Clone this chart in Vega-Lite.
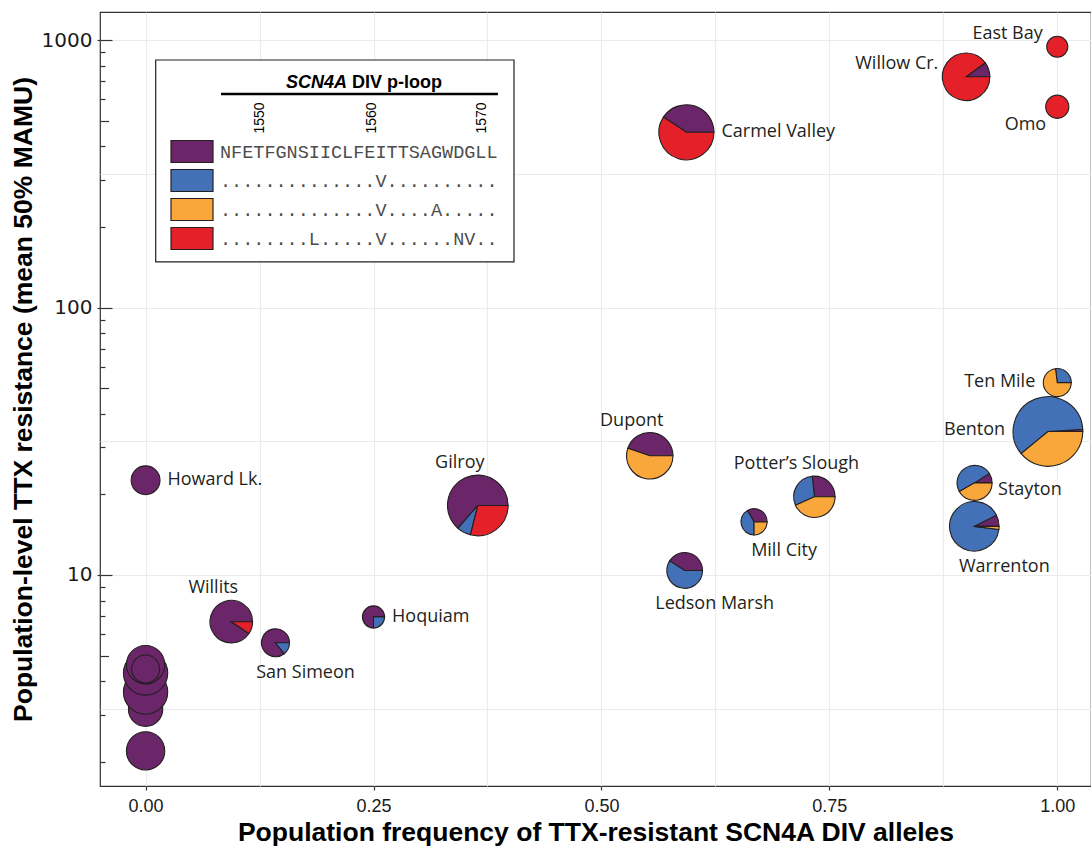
{
  "$schema": "https://vega.github.io/schema/vega-lite/v6.json",
  "width": 991,
  "height": 774,
  "autosize": {"type": "none"},
  "padding": {"left": 100, "top": 12, "right": 0, "bottom": 65},
  "background": "white",
  "config": {
    "view": {"stroke": "#333333", "strokeWidth": 1.2},
    "axis": {"labelOverlap": false, "labelFlush": false}
  },
  "datasets": {
    "sites": [
      {"pop": "z1", "freq": 0, "mamu": 2.2, "n": 30, "side": "none"},
      {"pop": "z2", "freq": 0, "mamu": 3.15, "n": 24, "side": "none"},
      {"pop": "z3", "freq": 0, "mamu": 3.65, "n": 40, "side": "none"},
      {"pop": "z4", "freq": 0, "mamu": 4.3, "n": 40, "side": "none"},
      {"pop": "z5", "freq": 0, "mamu": 4.62, "n": 30, "side": "none"},
      {"pop": "z6", "freq": 0, "mamu": 4.45, "n": 16, "side": "none"},
      {"pop": "Howard Lk.", "freq": 0, "mamu": 22.6, "n": 17, "side": "right"},
      {"pop": "Willits", "freq": 0.094, "mamu": 6.69, "n": 37, "side": "above"},
      {"pop": "San Simeon", "freq": 0.1425, "mamu": 5.58, "n": 16, "side": "below"},
      {"pop": "Hoquiam", "freq": 0.25, "mamu": 6.97, "n": 10, "side": "right"},
      {"pop": "Gilroy", "freq": 0.3644, "mamu": 18.2, "n": 75, "side": "above"},
      {"pop": "Dupont", "freq": 0.553, "mamu": 27.9, "n": 44, "side": "above"},
      {"pop": "Ledson Marsh", "freq": 0.5913, "mamu": 10.4, "n": 26, "side": "below"},
      {"pop": "Carmel Valley", "freq": 0.5932, "mamu": 452, "n": 62, "side": "right"},
      {"pop": "Mill City", "freq": 0.6674, "mamu": 15.8, "n": 14, "side": "below"},
      {"pop": "Potter’s Slough", "freq": 0.7336, "mamu": 19.6, "n": 35, "side": "above"},
      {"pop": "Willow Cr.", "freq": 0.9, "mamu": 729, "n": 46, "side": "upper-left"},
      {"pop": "Stayton", "freq": 0.9093, "mamu": 22.1, "n": 25, "side": "lower-right"},
      {"pop": "Warrenton", "freq": 0.909, "mamu": 15.2, "n": 50, "side": "below"},
      {"pop": "Benton", "freq": 0.9898, "mamu": 34.4, "n": 99, "side": "left"},
      {"pop": "Ten Mile", "freq": 1, "mamu": 52.4, "n": 16, "side": "left"},
      {"pop": "East Bay", "freq": 1, "mamu": 944, "n": 9, "side": "upper-left"},
      {"pop": "Omo", "freq": 1, "mamu": 563, "n": 11, "side": "lower-left"}
    ],
    "slices": [
      {"pop": "z1", "allele": "Ancestral", "frac": 1},
      {"pop": "z2", "allele": "Ancestral", "frac": 1},
      {"pop": "z3", "allele": "Ancestral", "frac": 1},
      {"pop": "z4", "allele": "Ancestral", "frac": 1},
      {"pop": "z5", "allele": "Ancestral", "frac": 1},
      {"pop": "z6", "allele": "Ancestral", "frac": 1},
      {"pop": "Howard Lk.", "allele": "Ancestral", "frac": 1},
      {"pop": "Willits", "allele": "Ancestral", "frac": 0.906},
      {"pop": "Willits", "allele": "I1561V+I1555L+D1568N+G1569V", "frac": 0.094},
      {"pop": "San Simeon", "allele": "Ancestral", "frac": 0.857},
      {"pop": "San Simeon", "allele": "I1561V", "frac": 0.143},
      {"pop": "Hoquiam", "allele": "Ancestral", "frac": 0.75},
      {"pop": "Hoquiam", "allele": "I1561V", "frac": 0.25},
      {"pop": "Gilroy", "allele": "Ancestral", "frac": 0.636},
      {"pop": "Gilroy", "allele": "I1561V", "frac": 0.075},
      {"pop": "Gilroy", "allele": "I1561V+I1555L+D1568N+G1569V", "frac": 0.289},
      {"pop": "Dupont", "allele": "Ancestral", "frac": 0.447},
      {"pop": "Dupont", "allele": "I1561V+G1566A", "frac": 0.553},
      {"pop": "Ledson Marsh", "allele": "Ancestral", "frac": 0.41},
      {"pop": "Ledson Marsh", "allele": "I1561V", "frac": 0.59},
      {"pop": "Carmel Valley", "allele": "Ancestral", "frac": 0.407},
      {"pop": "Carmel Valley", "allele": "I1561V+I1555L+D1568N+G1569V", "frac": 0.593},
      {"pop": "Mill City", "allele": "Ancestral", "frac": 0.333},
      {"pop": "Mill City", "allele": "I1561V", "frac": 0.417},
      {"pop": "Mill City", "allele": "I1561V+G1566A", "frac": 0.25},
      {"pop": "Potter’s Slough", "allele": "Ancestral", "frac": 0.266},
      {"pop": "Potter’s Slough", "allele": "I1561V", "frac": 0.3},
      {"pop": "Potter’s Slough", "allele": "I1561V+G1566A", "frac": 0.434},
      {"pop": "Willow Cr.", "allele": "Ancestral", "frac": 0.1},
      {"pop": "Willow Cr.", "allele": "I1561V+I1555L+D1568N+G1569V", "frac": 0.9},
      {"pop": "Stayton", "allele": "Ancestral", "frac": 0.091},
      {"pop": "Stayton", "allele": "I1561V", "frac": 0.49},
      {"pop": "Stayton", "allele": "I1561V+G1566A", "frac": 0.419},
      {"pop": "Warrenton", "allele": "Ancestral", "frac": 0.075},
      {"pop": "Warrenton", "allele": "I1561V", "frac": 0.905},
      {"pop": "Warrenton", "allele": "I1561V+G1566A", "frac": 0.02},
      {"pop": "Benton", "allele": "Ancestral", "frac": 0.01},
      {"pop": "Benton", "allele": "I1561V", "frac": 0.6},
      {"pop": "Benton", "allele": "I1561V+G1566A", "frac": 0.39},
      {"pop": "Ten Mile", "allele": "I1561V", "frac": 0.27},
      {"pop": "Ten Mile", "allele": "I1561V+G1566A", "frac": 0.73},
      {"pop": "East Bay", "allele": "I1561V+I1555L+D1568N+G1569V", "frac": 1},
      {"pop": "Omo", "allele": "I1561V+I1555L+D1568N+G1569V", "frac": 1}
    ]
  },
  "layer": [
    {
      "data": {"name": "slices"},
      "transform": [
        {"lookup": "pop", "from": {"data": {"name": "sites"}, "key": "pop", "fields": ["freq", "mamu", "n"]}},
        {"stack": "frac", "groupby": ["pop"], "sort": [{"field": "allele", "order": "ascending"}], "offset": "normalize", "as": ["f0", "f1"]}
      ],
      "mark": {"type": "arc", "stroke": "#231f20", "strokeWidth": 1.1},
      "encoding": {
        "x": {"field": "freq", "type": "quantitative", "scale": {"domain": [-0.05, 1.037], "nice": false, "zero": false},
          "axis": {"orient": "bottom", "values": [0, 0.125, 0.25, 0.375, 0.5, 0.625, 0.75, 0.875, 1], "grid": true, "gridColor": "#EBEBEB", "gridWidth": 1.1, "labels": false, "ticks": false, "domain": false, "title": null}},
        "y": {"field": "mamu", "type": "quantitative", "scale": {"type": "log", "domain": [1.626, 1273], "nice": false},
          "axis": {"orient": "left", "values": [3.1623, 10, 31.623, 100, 316.23, 1000], "grid": true, "gridColor": "#EBEBEB", "gridWidth": 1.1, "labels": false, "ticks": false, "domain": false, "title": null}},
        "theta": {"field": "f0", "type": "quantitative", "scale": {"domain": [0, 1], "range": [1.5708, -4.7124], "nice": false, "zero": false}},
        "theta2": {"field": "f1"},
        "radius": {"field": "n", "type": "quantitative", "scale": {"type": "sqrt", "domain": [0, 100], "range": [0, 35], "zero": true}},
        "color": {
          "field": "allele", "type": "nominal",
          "scale": {"domain": ["Ancestral", "I1561V", "I1561V+G1566A", "I1561V+I1555L+D1568N+G1569V"], "range": ["#6B2569", "#4371B8", "#F9A73B", "#E42129"]},
          "legend": {
            "orient": "none", "legendX": 70, "legendY": 128, "title": null, "padding": 0,
            "symbolType": "M-1,-0.524H1V0.524H-1Z", "symbolSize": 1764,
            "symbolStrokeColor": "#231f20", "symbolStrokeWidth": 1.2, "symbolOpacity": 1,
            "labelFont": "Liberation Mono", "labelFontSize": 18.5, "labelColor": "#4d4d4d",
            "labelOffset": 6, "labelLimit": 600, "rowPadding": 6, "clipHeight": 23,
            "labelExpr": "datum.label == 'Ancestral' ? 'NFETFGNSIICLFEITTSAGWDGLL' : datum.label == 'I1561V' ? '..............V..........' : datum.label == 'I1561V+G1566A' ? '..............V....A.....' : '........L.....V......NV..'"
          }
        }
      }
    },
    {
      "data": {"name": "sites"},
      "transform": [{"filter": "datum.side == 'right'"}],
      "mark": {"type": "text", "theta": 1.5708, "dx": 7.5, "dy": 0, "align": "left", "baseline": "middle", "font": "Open Sans", "fontSize": 18, "fill": "#231f20"},
      "encoding": {
        "x": {"field": "freq", "type": "quantitative", "scale": {"domain": [-0.05, 1.037], "nice": false, "zero": false},
          "axis": {"orient": "bottom", "values": [0, 0.25, 0.5, 0.75, 1], "format": ".2f", "grid": false, "domain": false, "ticks": true, "tickSize": 4, "tickColor": "#333333", "tickWidth": 1.2,
            "labelFont": "Liberation Sans", "labelFontSize": 18, "labelColor": "#1a1a1a", "labelPadding": 7,
            "title": "Population frequency of TTX-resistant SCN4A DIV alleles", "titleFont": "Liberation Sans", "titleFontSize": 26.5, "titleFontWeight": "bold", "titleColor": "#000000", "titlePadding": 4}},
        "y": {"field": "mamu", "type": "quantitative", "scale": {"type": "log", "domain": [1.626, 1273], "nice": false},
          "axis": {"orient": "left", "values": [10, 100, 1000], "format": "d", "grid": false, "domain": false, "ticks": true, "tickSize": 3, "tickColor": "#333333", "tickWidth": 1.2,
            "labelFont": "DejaVu Sans", "labelFontSize": 20, "labelColor": "#1a1a1a", "labelPadding": 5,
            "title": "Population-level TTX resistance (mean 50% MAMU)", "titleFont": "Liberation Sans", "titleFontSize": 26.5, "titleFontWeight": "bold", "titleColor": "#000000", "titlePadding": 4}},
        "radius": {"field": "n", "type": "quantitative", "scale": {"type": "sqrt", "domain": [0, 100], "range": [0, 35], "zero": true}},
        "text": {"field": "pop"}
      }
    },
    {
      "data": {"name": "sites"},
      "transform": [{"filter": "datum.side == 'left'"}],
      "mark": {"type": "text", "theta": 4.7124, "dx": -8, "dy": -1, "align": "right", "baseline": "middle", "font": "Open Sans", "fontSize": 18, "fill": "#231f20"},
      "encoding": {
        "x": {"field": "freq", "type": "quantitative", "scale": {"domain": [-0.05, 1.037], "nice": false, "zero": false}, "axis": null},
        "y": {"field": "mamu", "type": "quantitative", "scale": {"type": "log", "domain": [1.626, 1273], "nice": false},
          "axis": {"orient": "left", "values": [2, 3, 4, 5, 6, 7, 8, 9, 10, 20, 30, 40, 50, 60, 70, 80, 90, 100, 200, 300, 400, 500, 600, 700, 800, 900, 1000],
            "labels": false, "grid": false, "domain": false, "title": null, "ticks": true, "tickColor": "#333333", "tickWidth": 1.2,
            "tickSize": {"condition": [{"test": "datum.value == 10 || datum.value == 100 || datum.value == 1000", "value": -12}, {"test": "datum.value == 5 || datum.value == 50 || datum.value == 500", "value": -8.5}], "value": -5}}},
        "radius": {"field": "n", "type": "quantitative", "scale": {"type": "sqrt", "domain": [0, 100], "range": [0, 35], "zero": true}},
        "text": {"field": "pop"}
      }
    },
    {
      "data": {"name": "sites"},
      "transform": [{"filter": "datum.side == 'lower-right'"}],
      "mark": {"type": "text", "theta": 1.5708, "dx": 6, "dy": 7, "align": "left", "baseline": "middle", "font": "Open Sans", "fontSize": 18, "fill": "#231f20"},
      "encoding": {
        "x": {"field": "freq", "type": "quantitative", "scale": {"domain": [-0.05, 1.037], "nice": false, "zero": false}, "axis": null},
        "y": {"field": "mamu", "type": "quantitative", "scale": {"type": "log", "domain": [1.626, 1273], "nice": false}, "axis": null},
        "radius": {"field": "n", "type": "quantitative", "scale": {"type": "sqrt", "domain": [0, 100], "range": [0, 35], "zero": true}},
        "text": {"field": "pop"}
      }
    },
    {
      "data": {"name": "sites"},
      "transform": [{"filter": "datum.side == 'upper-left'"}],
      "mark": {"type": "text", "theta": 4.7124, "dx": -4, "dy": -13, "align": "right", "baseline": "middle", "font": "Open Sans", "fontSize": 18, "fill": "#231f20"},
      "encoding": {
        "x": {"field": "freq", "type": "quantitative", "scale": {"domain": [-0.05, 1.037], "nice": false, "zero": false}, "axis": null},
        "y": {"field": "mamu", "type": "quantitative", "scale": {"type": "log", "domain": [1.626, 1273], "nice": false}, "axis": null},
        "radius": {"field": "n", "type": "quantitative", "scale": {"type": "sqrt", "domain": [0, 100], "range": [0, 35], "zero": true}},
        "text": {"field": "pop"}
      }
    },
    {
      "data": {"name": "sites"},
      "transform": [{"filter": "datum.side == 'lower-left'"}],
      "mark": {"type": "text", "theta": 4.7124, "dx": 0.5, "dy": 18, "align": "right", "baseline": "middle", "font": "Open Sans", "fontSize": 18, "fill": "#231f20"},
      "encoding": {
        "x": {"field": "freq", "type": "quantitative", "scale": {"domain": [-0.05, 1.037], "nice": false, "zero": false}, "axis": null},
        "y": {"field": "mamu", "type": "quantitative", "scale": {"type": "log", "domain": [1.626, 1273], "nice": false}, "axis": null},
        "radius": {"field": "n", "type": "quantitative", "scale": {"type": "sqrt", "domain": [0, 100], "range": [0, 35], "zero": true}},
        "text": {"field": "pop"}
      }
    },
    {
      "data": {"name": "sites"},
      "transform": [{"filter": "datum.side == 'above'"}],
      "mark": {"type": "text", "theta": 0, "dx": -18, "dy": -7, "align": "center", "baseline": "alphabetic", "font": "Open Sans", "fontSize": 18, "fill": "#231f20"},
      "encoding": {
        "x": {"field": "freq", "type": "quantitative", "scale": {"domain": [-0.05, 1.037], "nice": false, "zero": false}, "axis": null},
        "y": {"field": "mamu", "type": "quantitative", "scale": {"type": "log", "domain": [1.626, 1273], "nice": false}, "axis": null},
        "radius": {"field": "n", "type": "quantitative", "scale": {"type": "sqrt", "domain": [0, 100], "range": [0, 35], "zero": true}},
        "text": {"field": "pop"}
      }
    },
    {
      "data": {"name": "sites"},
      "transform": [{"filter": "datum.side == 'below'"}],
      "mark": {"type": "text", "theta": 3.1416, "dx": 30, "dy": 21, "align": "center", "baseline": "alphabetic", "font": "Open Sans", "fontSize": 18, "fill": "#231f20"},
      "encoding": {
        "x": {"field": "freq", "type": "quantitative", "scale": {"domain": [-0.05, 1.037], "nice": false, "zero": false}, "axis": null},
        "y": {"field": "mamu", "type": "quantitative", "scale": {"type": "log", "domain": [1.626, 1273], "nice": false}, "axis": null},
        "radius": {"field": "n", "type": "quantitative", "scale": {"type": "sqrt", "domain": [0, 100], "range": [0, 35], "zero": true}},
        "text": {"field": "pop"}
      }
    },
    {
      "data": {"values": [{}]},
      "layer": [
        {
          "mark": {"type": "rect", "fill": "white", "stroke": "#231f20", "strokeWidth": 1.2},
          "encoding": {
            "x": {"datum": 0.0111, "type": "quantitative", "scale": {"domain": [-0.05, 1.037], "nice": false, "zero": false}, "axis": null},
            "x2": {"datum": 0.4041},
            "y": {"datum": 842, "type": "quantitative", "scale": {"type": "log", "domain": [1.626, 1273], "nice": false}, "axis": null},
            "y2": {"datum": 148}
          }
        },
        {
          "mark": {"type": "rule", "stroke": "#000000", "strokeWidth": 2.5},
          "encoding": {
            "x": {"datum": 0.0827, "type": "quantitative", "scale": {"domain": [-0.05, 1.037], "nice": false, "zero": false}, "axis": null},
            "x2": {"datum": 0.3865},
            "y": {"datum": 628.4, "type": "quantitative", "scale": {"type": "log", "domain": [1.626, 1273], "nice": false}, "axis": null}
          }
        },
        {
          "mark": {"type": "text", "text": "SCN4A", "align": "right", "baseline": "alphabetic", "font": "Liberation Sans", "fontSize": 18, "fontWeight": "bold", "fontStyle": "italic", "fill": "#000000"},
          "encoding": {
            "x": {"datum": 0.2209, "type": "quantitative", "scale": {"domain": [-0.05, 1.037], "nice": false, "zero": false}, "axis": null},
            "y": {"datum": 661.8, "type": "quantitative", "scale": {"type": "log", "domain": [1.626, 1273], "nice": false}, "axis": null}
          }
        },
        {
          "mark": {"type": "text", "text": "DIV p-loop", "align": "left", "baseline": "alphabetic", "font": "Liberation Sans", "fontSize": 18, "fontWeight": "bold", "fill": "#000000"},
          "encoding": {
            "x": {"datum": 0.2264, "type": "quantitative", "scale": {"domain": [-0.05, 1.037], "nice": false, "zero": false}, "axis": null},
            "y": {"datum": 661.8, "type": "quantitative", "scale": {"type": "log", "domain": [1.626, 1273], "nice": false}, "axis": null}
          }
        },
        {
          "mark": {"type": "text", "text": "1550", "angle": 270, "align": "center", "baseline": "middle", "font": "Liberation Sans", "fontSize": 14, "fill": "#000000"},
          "encoding": {
            "x": {"datum": 0.1255, "type": "quantitative", "scale": {"domain": [-0.05, 1.037], "nice": false, "zero": false}, "axis": null},
            "y": {"datum": 511, "type": "quantitative", "scale": {"type": "log", "domain": [1.626, 1273], "nice": false}, "axis": null}
          }
        },
        {
          "mark": {"type": "text", "text": "1560", "angle": 270, "align": "center", "baseline": "middle", "font": "Liberation Sans", "fontSize": 14, "fill": "#000000"},
          "encoding": {
            "x": {"datum": 0.2483, "type": "quantitative", "scale": {"domain": [-0.05, 1.037], "nice": false, "zero": false}, "axis": null},
            "y": {"datum": 511, "type": "quantitative", "scale": {"type": "log", "domain": [1.626, 1273], "nice": false}, "axis": null}
          }
        },
        {
          "mark": {"type": "text", "text": "1570", "angle": 270, "align": "center", "baseline": "middle", "font": "Liberation Sans", "fontSize": 14, "fill": "#000000"},
          "encoding": {
            "x": {"datum": 0.369, "type": "quantitative", "scale": {"domain": [-0.05, 1.037], "nice": false, "zero": false}, "axis": null},
            "y": {"datum": 511, "type": "quantitative", "scale": {"type": "log", "domain": [1.626, 1273], "nice": false}, "axis": null}
          }
        }
      ]
    }
  ],
  "resolve": {"axis": {"x": "independent", "y": "independent"}}
}
